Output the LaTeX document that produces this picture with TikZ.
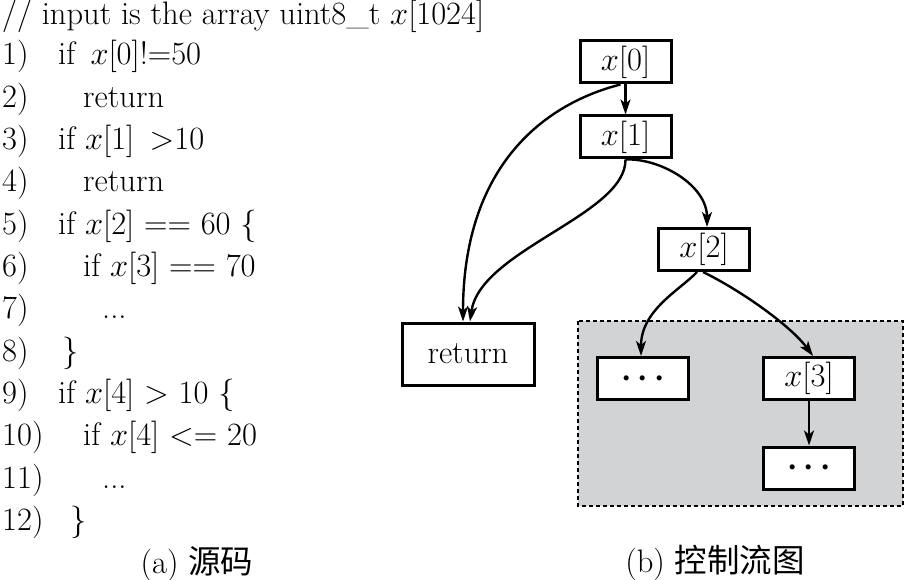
\RequirePackage{fix-cm}
\documentclass[tikz,border=0pt]{standalone}
\usepackage{fontspec}
\usepackage{bm}
\newfontfamily\cjk{Noto Sans CJK SC}
\usetikzlibrary{arrows.meta}
\definecolor{regiongray}{RGB}{210,211,213}
\begin{document}
\begin{tikzpicture}[x=1pt,y=-1pt,
  codetxt/.style={anchor=base west, inner sep=0pt, font=\fontsize{32.5}{39}\selectfont},
  cfgbox/.style={draw, line width=3pt, fill=white, minimum width=91pt, minimum height=42pt, inner sep=0pt, font=\fontsize{32.5}{39}\selectfont},
  arr/.style={line width=2.4pt, -{Stealth[length=15pt,width=10pt,inset=4pt]}},
  capt/.style={anchor=base, inner sep=0pt, font=\fontsize{32.5}{39}\selectfont}]
\useasboundingbox (0,0) rectangle (909,580);
% source code
\node[codetxt] (l0) at (2,25) {// input is the array uint8\_t $x$[1024]};
\node[codetxt] (n1) at (2,65) {1)};   \node[codetxt] (c1) at (58,65) {if \,$x$[0]!=50};
\node[codetxt] (n2) at (2,107.3) {2)}; \node[codetxt] (c2) at (83,107.3) {return};
\node[codetxt] (n3) at (2,149.6) {3)}; \node[codetxt] (c3) at (58,149.6) {if $x$[1] \,>10};
\node[codetxt] (n4) at (2,191.9) {4)}; \node[codetxt] (c4) at (83,191.9) {return};
\node[codetxt] (n5) at (2,234.2) {5)}; \node[codetxt] (c5) at (58,234.2) {if $x$[2] == 60 \{};
\node[codetxt] (n6) at (2,276.5) {6)}; \node[codetxt] (c6) at (83,276.5) {if $x$[3] == 70};
\node[codetxt] (n7) at (2,318.8) {7)}; \node[codetxt] (c7) at (102,318.8) {...};
\node[codetxt] (n8) at (2,361.1) {8)}; \node[codetxt] (c8) at (62,361.1) {\}};
\node[codetxt] (n9) at (2,403.4) {9)}; \node[codetxt] (c9) at (58,403.4) {if $x$[4] > 10 \{};
\node[codetxt] (n10) at (2,445.7) {10)}; \node[codetxt] (c10) at (83,445.7) {if $x$[4] <= 20};
\node[codetxt] (n11) at (2,488) {11)}; \node[codetxt] (c11) at (102,488) {...};
\node[codetxt] (n12) at (2,530.3) {12)}; \node[codetxt] (c12) at (70,530.3) {\}};
\node[capt] (capa) at (197,573) {(a) {\cjk 源码}};
% control flow graph
\draw[line width=1.6pt, dash pattern=on 4pt off 3pt, fill=regiongray] (578,321) rectangle (903,506);
\node[cfgbox] (x0) at (625.5,62) {$x$[0]};
\node[cfgbox] (x1) at (625.5,137) {$x$[1]};
\node[cfgbox] (x2) at (704,249.5) {$x$[2]};
\node[cfgbox, minimum width=132pt, minimum height=62pt] (ret) at (468,354) {return};
\node[cfgbox] (d1) at (643,378.5) {$\bm{\cdots}$};
\node[cfgbox] (x3) at (809,378.5) {$x$[3]};
\node[cfgbox] (d2) at (809,468) {$\bm{\cdots}$};
\node[capt] (capb) at (715,572) {(b) {\cjk 控制流图}};
\draw[arr] (x0.south) -- (x1.north);
\draw[arr] ([xshift=-5pt]x0.south) .. controls (540,105) and (463,170) .. ([xshift=-5pt]ret.north);
\draw[arr] (x1.south) .. controls (626,215) and (480,250) .. ([xshift=2pt]ret.north);
\draw[arr] (x1.south) .. controls (660,158) and (707,185) .. ([xshift=3pt]x2.north);
\draw[arr] ([xshift=-7pt]x2.south) .. controls (680,290) and (641,310) .. ([xshift=-2pt]d1.north);
\draw[arr] ([xshift=-1pt]x2.south) .. controls (740,290) and (790,325) .. ([xshift=4pt]x3.north);
\draw[arr] (x3.south) -- (d2.north);
\end{tikzpicture}
\end{document}
